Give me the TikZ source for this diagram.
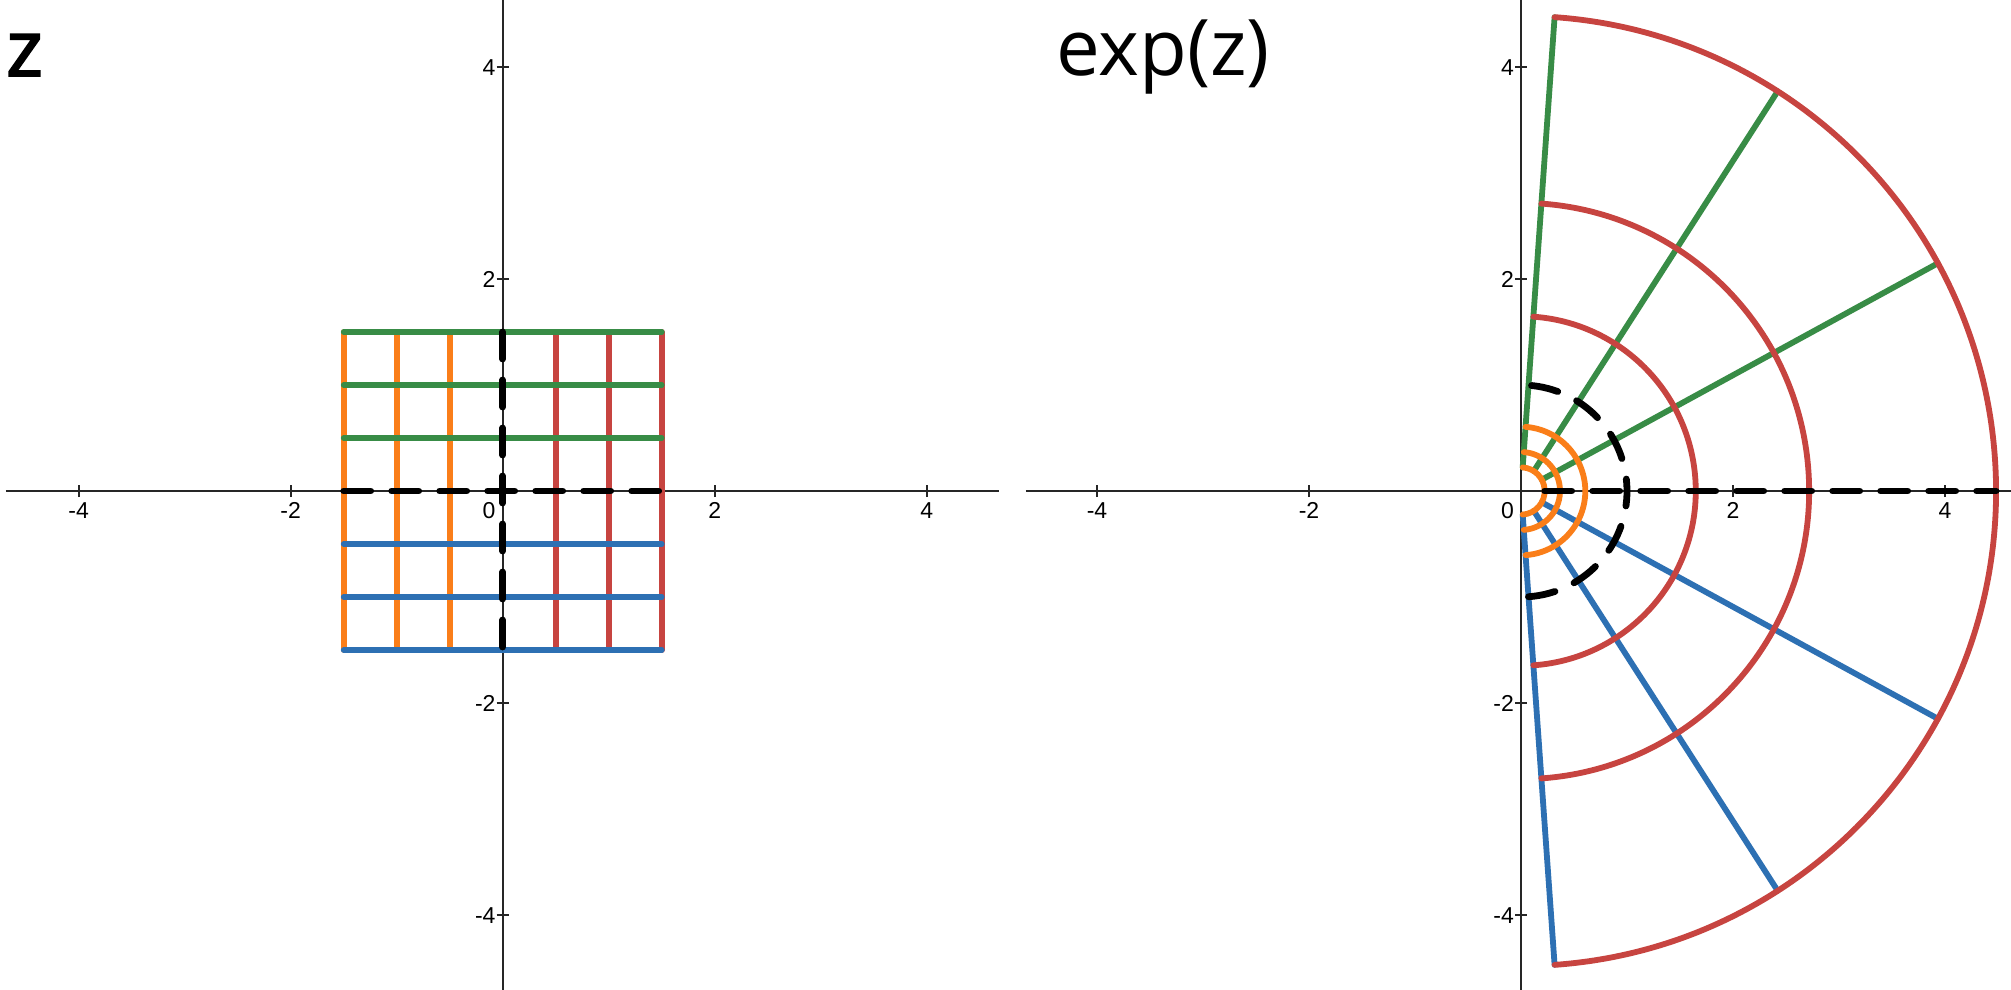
\documentclass[tikz,border=0pt]{standalone}
\usepackage{fontspec}
\setmainfont{Liberation Sans}
\newfontfamily\titlefont{Open Sans}
\newfontfamily\titleboldfont[FakeBold=2.5]{Open Sans}
\definecolor{dred}{HTML}{C74440}
\definecolor{dblue}{HTML}{2D70B3}
\definecolor{dgreen}{HTML}{388C46}
\definecolor{dorange}{HTML}{FA7E19}
\begin{document}
\begin{tikzpicture}[x=1pt,y=-1pt,
  axisline/.style={line width=2.4pt,black!85},
  tickmark/.style={line width=1.6pt,black!85},
  ticklabel/.style={font=\fontsize{23}{23}\selectfont, inner sep=0pt},
  colline/.style={line width=5.8pt, line cap=round},
  orangeline/.style={colline,dorange},
  redline/.style={colline,dred},
  greenline/.style={colline,dgreen},
  blueline/.style={colline,dblue},
  dashline/.style={line width=6.8pt, black, line cap=round, dash pattern=on 27pt off 21pt},
  titletext/.style={inner sep=0pt, font=\titlefont\fontsize{78}{78}\selectfont},
]
\useasboundingbox (0,0) rectangle (2011,990);
\fill[white] (0,0) rectangle (2011,990);

% titles
\node[titletext, anchor=base west, font=\titleboldfont\fontsize{78}{78}\selectfont] (ztitle) at (6,76) {z};
\node[titletext, anchor=base west] (exptitle) at (1056,76) {exp(z)};

% ---------- left panel: z ----------
\begin{scope}[shift={(502.7,491)}, x=106pt, y=106pt]
  \draw[axisline] (-4.686,0) -- (4.686,0);
  \draw[axisline] (0,4.64) -- (0,-4.71);
  \foreach \t in {-4,-2,2,4} {
    \draw[tickmark] (\t,0) +(0pt,-6pt) -- +(0pt,6pt);
    \draw[tickmark] (0,\t) +(-6pt,0pt) -- +(6pt,0pt);
  }
  \node[ticklabel, anchor=base] (lxa) at ([yshift=-27pt]-4,0) {-4};
  \node[ticklabel, anchor=base] (lxb) at ([yshift=-27pt]-2,0) {-2};
  \node[ticklabel, anchor=base] (lxc) at ([yshift=-27pt]2,0) {2};
  \node[ticklabel, anchor=base] (lxd) at ([yshift=-27pt]4,0) {4};
  \node[ticklabel, anchor=base east] (lya) at ([xshift=-7pt,yshift=-8pt]0,4) {4};
  \node[ticklabel, anchor=base east] (lyb) at ([xshift=-7pt,yshift=-8pt]0,2) {2};
  \node[ticklabel, anchor=base east] (lyc) at ([xshift=-7pt,yshift=-8pt]0,-2) {-2};
  \node[ticklabel, anchor=base east] (lyd) at ([xshift=-7pt,yshift=-8pt]0,-4) {-4};
  \node[ticklabel, anchor=base east] (lzero) at ([xshift=-7pt,yshift=-27pt]0,0) {0};
  % vertical lines
  \foreach \x in {-1.5,-1,-0.5} \draw[orangeline] (\x,-1.5) -- (\x,1.5);
  \foreach \x in {0.5,1,1.5} \draw[redline] (\x,-1.5) -- (\x,1.5);
  % horizontal lines
  \foreach \y in {1.5,1,0.5} \draw[greenline] (-1.5,\y) -- (1.5,\y);
  \foreach \y in {-0.5,-1,-1.5} \draw[blueline] (-1.5,\y) -- (1.5,\y);
  % dashed axes segments
  \draw[dashline] (-1.5,0) -- (1.5,0);
  \draw[dashline] (0,1.5) -- (0,-1.5);
\end{scope}

% ---------- right panel: exp(z) ----------
\begin{scope}[shift={(1521,491)}, x=106pt, y=106pt]
  \draw[axisline] (-4.67,0) -- (4.62,0);
  \draw[axisline] (0,4.64) -- (0,-4.71);
  \foreach \t in {-4,-2,2,4} {
    \draw[tickmark] (\t,0) +(0pt,-6pt) -- +(0pt,6pt);
    \draw[tickmark] (0,\t) +(-6pt,0pt) -- +(6pt,0pt);
  }
  \node[ticklabel, anchor=base] (rxa) at ([yshift=-27pt]-4,0) {-4};
  \node[ticklabel, anchor=base] (rxb) at ([yshift=-27pt]-2,0) {-2};
  \node[ticklabel, anchor=base] (rxc) at ([yshift=-27pt]2,0) {2};
  \node[ticklabel, anchor=base] (rxd) at ([yshift=-27pt]4,0) {4};
  \node[ticklabel, anchor=base east] (rya) at ([xshift=-7pt,yshift=-8pt]0,4) {4};
  \node[ticklabel, anchor=base east] (ryb) at ([xshift=-7pt,yshift=-8pt]0,2) {2};
  \node[ticklabel, anchor=base east] (ryc) at ([xshift=-7pt,yshift=-8pt]0,-2) {-2};
  \node[ticklabel, anchor=base east] (ryd) at ([xshift=-7pt,yshift=-8pt]0,-4) {-4};
  \node[ticklabel, anchor=base east] (rzero) at ([xshift=-7pt,yshift=-27pt]0,0) {0};
  % rays (images of horizontal lines)
  \foreach \a in {85.944,57.296,28.648} \draw[greenline] (\a:0.22313) -- (\a:4.48169);
  \foreach \a in {-28.648,-57.296,-85.944} \draw[blueline] (\a:0.22313) -- (\a:4.48169);
  % arcs (images of vertical lines)
  \foreach \r in {0.22313,0.36788,0.60653}
    \draw[orangeline] (-85.944:\r) arc[start angle=-85.944, end angle=85.944, radius=\r];
  \foreach \r in {1.64872,2.71828,4.48169}
    \draw[redline] (-85.944:\r) arc[start angle=-85.944, end angle=85.944, radius=\r];
  % dashed images of the axes
  \draw[dashline] (-85.944:1) arc[start angle=-85.944, end angle=85.944, radius=1];
  \draw[dashline] (0.22313,0) -- (4.48169,0);
\end{scope}
\end{tikzpicture}
\end{document}
